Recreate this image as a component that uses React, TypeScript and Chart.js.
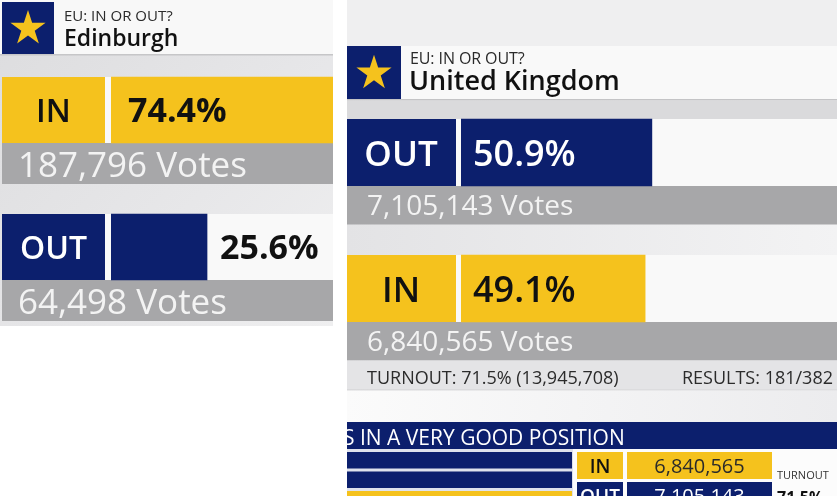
import { useEffect, useRef } from "react";
import { Chart, registerables } from "chart.js";

Chart.register(...registerables);

// ---------------- data ----------------
const headerKicker = "EU: IN OR OUT?";

const edinburghTitle = "Edinburgh";
const edinburghSides = ["IN", "OUT"];
const edinburghShare = [74.4, 25.6];
const edinburghVotes = [187796, 64498];
const edinburghAxis = [-11.6, 74.4]; // the Edinburgh graphic is not drawn from zero

const ukTitle = "United Kingdom";
const ukSides = ["OUT", "IN"];
const ukShare = [50.9, 49.1];
const ukVotes = [7105143, 6840565];
const ukAxis = [0, 100];
const ukTurnoutPct = 71.5;
const ukTurnoutVotes = 13945708;
const ukResultsDeclared = 181;
const ukResultsTotal = 382;

const tickerText = "S IN A VERY GOOD POSITION";
const tickerSides = ["IN", "OUT"];
const tickerVotes = [6840565, 7105143];

// ---------------- style ----------------
const NAVY = "#0c1f6d";
const YELLOW = "#f5c21d";
const GRAY = "#a7a7a9";
const VOTES_TEXT = "#f3f3f3";
const FONT = '"Open Sans", "Noto Sans", sans-serif';
const sideColor = (s: string) => (s === "IN" ? YELLOW : NAVY);
const sideText = (s: string) => (s === "IN" ? "#111111" : "#ffffff");
const fmt = (n: number) => String(n).replace(/\B(?=(\d{3})+(?!\d))/g, ",");

function drawStar(ctx: CanvasRenderingContext2D, cx: number, cy: number, R: number, color: string) {
  const r = R * 0.382;
  ctx.beginPath();
  for (let i = 0; i < 10; i++) {
    const rad = i % 2 === 0 ? R : r;
    const a = -Math.PI / 2 + (i * Math.PI) / 5;
    ctx.lineTo(cx + rad * Math.cos(a), cy + rad * Math.sin(a));
  }
  ctx.closePath();
  ctx.fillStyle = color;
  ctx.fill();
}

function text(
  ctx: CanvasRenderingContext2D,
  s: string,
  x: number,
  y: number,
  font: string,
  color: string,
  align: CanvasTextAlign = "left",
  spacing = 0
) {
  ctx.save();
  ctx.font = font;
  ctx.fillStyle = color;
  ctx.textAlign = align;
  ctx.textBaseline = "alphabetic";
  (ctx as any).letterSpacing = spacing + "px";
  ctx.fillText(s, x, y);
  ctx.restore();
}

function barGeom(chart: any, i: number) {
  const el = chart.getDatasetMeta(0).data[i];
  const p = el.getProps(["x", "y", "base", "height"], true);
  return { x: p.x, y: p.y, base: p.base, h: p.height, top: p.y - p.height / 2, bot: p.y + p.height / 2 };
}

// ---------------- Edinburgh panel ----------------
const edinPlugin = {
  id: "edinDecor",
  beforeDatasetsDraw(chart: any) {
    const ctx: CanvasRenderingContext2D = chart.ctx;
    const W = chart.width;
    const H = chart.height;
    ctx.save();
    const g = ctx.createLinearGradient(0, 0, W, H);
    g.addColorStop(0, "#dcdcde");
    g.addColorStop(0.6, "#e7e7e9");
    g.addColorStop(1, "#efeff0");
    ctx.fillStyle = g;
    ctx.fillRect(0, 0, W, H);
    // header
    ctx.fillStyle = "#f8f8f8";
    ctx.fillRect(0, 0, W, 54);
    ctx.fillStyle = "#c6c6c8";
    ctx.fillRect(0, 54, W, 1.5);
    ctx.fillStyle = NAVY;
    ctx.fillRect(2, 2, 52, 52);
    drawStar(ctx, 28, 28.5, 18.5, YELLOW);
    // rows
    edinburghSides.forEach((side, i) => {
      const b = barGeom(chart, i);
      ctx.fillStyle = "#f9f9f9";
      ctx.fillRect(2, b.top, W - 2, b.h);
      ctx.fillStyle = sideColor(side);
      ctx.fillRect(2, b.top, 103, b.h);
      ctx.fillStyle = GRAY;
      ctx.fillRect(2, b.bot, W - 2, 41);
    });
    ctx.restore();
  },
  afterDatasetsDraw(chart: any) {
    const ctx: CanvasRenderingContext2D = chart.ctx;
    text(ctx, headerKicker, 64, 21, `400 15px ${FONT}`, "#2a2a2a");
    text(ctx, edinburghTitle, 64, 46, `600 23px ${FONT}`, "#111111");
    edinburghSides.forEach((side, i) => {
      const b = barGeom(chart, i);
      text(ctx, side, 53.5, b.y + 12, `600 32px ${FONT}`, sideText(side), "center");
      const pct = edinburghShare[i].toFixed(1) + "%";
      ctx.save();
      ctx.font = `700 34px ${FONT}`;
      const tw = ctx.measureText(pct).width;
      ctx.restore();
      const inside = b.x - b.base >= tw + 30;
      text(
        ctx,
        pct,
        inside ? b.base + 17 : b.x + 13,
        b.y + 12,
        `700 34px ${FONT}`,
        inside ? sideText(side) : "#111111"
      );
      text(ctx, fmt(edinburghVotes[i]) + " Votes", 18, b.bot + 34, `400 35px ${FONT}`, VOTES_TEXT);
    });
  },
};

// ---------------- UK panel ----------------
const ukPlugin = {
  id: "ukDecor",
  beforeDatasetsDraw(chart: any) {
    const ctx: CanvasRenderingContext2D = chart.ctx;
    const W = chart.width;
    const H = chart.height;
    ctx.save();
    const g = ctx.createLinearGradient(0, 0, W, 0);
    g.addColorStop(0, "#e3e3e5");
    g.addColorStop(1, "#f3f3f4");
    ctx.fillStyle = g;
    ctx.fillRect(0, 0, W, H);
    // top area lighter
    ctx.fillStyle = "#efeff0";
    ctx.fillRect(0, 0, W, 46);
    ctx.fillStyle = "#ffffff";
    ctx.fillRect(0, 0, 1, H);
    // header
    ctx.fillStyle = "#f9f9f9";
    ctx.fillRect(55, 46, W - 55, 53);
    ctx.fillStyle = "#c4c4c6";
    ctx.fillRect(1, 99, W - 1, 1.5);
    ctx.fillStyle = "#dadadc";
    ctx.fillRect(1, 100.5, W - 1, 18.5);
    ctx.fillStyle = NAVY;
    ctx.fillRect(1, 46, 54, 53);
    drawStar(ctx, 28, 73.3, 18.5, YELLOW);

    let lastBot = 0;
    ukSides.forEach((side, i) => {
      const b = barGeom(chart, i);
      ctx.fillStyle = "#f9f9f9";
      ctx.fillRect(1, b.top, W - 1, b.h);
      ctx.fillStyle = sideColor(side);
      ctx.fillRect(1, b.top, 109, b.h);
      ctx.fillStyle = GRAY;
      ctx.fillRect(1, b.bot, W - 1, 38.5);
      lastBot = b.bot + 38.5;
    });
    // turnout strip
    ctx.fillStyle = "#e4e4e6";
    ctx.fillRect(1, lastBot, W - 1, 29);
    ctx.fillStyle = "#cfcfd1";
    ctx.fillRect(1, lastBot + 29, W - 1, 1);
    const g2 = ctx.createLinearGradient(0, lastBot + 30, W, 422);
    g2.addColorStop(0, "#fbfbfb");
    g2.addColorStop(1, "#ececee");
    ctx.fillStyle = g2;
    ctx.fillRect(1, lastBot + 30, W - 1, 422 - lastBot - 30);

    // ticker
    ctx.fillStyle = NAVY;
    ctx.fillRect(1, 422, W - 1, 27);
    ctx.fillStyle = "#fcfcfc";
    ctx.fillRect(1, 449, W - 1, H - 449);
    ctx.fillStyle = "#dfe2ec";
    ctx.fillRect(1, 449, 226, H - 449);
    ctx.fillStyle = NAVY;
    ctx.fillRect(1, 452, 225, 16.5);
    ctx.fillRect(1, 471.5, 225, 16.5);
    ctx.fillStyle = YELLOW;
    ctx.fillRect(1, 491, 225, H - 491);
    // ticker table cells
    tickerSides.forEach((side, i) => {
      const top = 452 + i * 30;
      ctx.fillStyle = sideColor(side);
      ctx.fillRect(231, top, 46, 27);
      ctx.fillRect(281, top, 145, 27);
    });
    ctx.restore();
  },
  afterDatasetsDraw(chart: any) {
    const ctx: CanvasRenderingContext2D = chart.ctx;
    text(ctx, headerKicker, 64, 64, `400 16px ${FONT}`, "#2a2a2a", "left", -0.1);
    text(ctx, ukTitle, 63, 90, `600 27px ${FONT}`, "#111111");
    let lastBot = 0;
    ukSides.forEach((side, i) => {
      const b = barGeom(chart, i);
      text(ctx, side, 55, b.y + 13, `600 35px ${FONT}`, sideText(side), "center");
      const pct = ukShare[i].toFixed(1) + "%";
      ctx.save();
      ctx.font = `600 36px ${FONT}`;
      const tw = ctx.measureText(pct).width;
      ctx.restore();
      const inside = b.x - b.base >= tw + 24;
      text(
        ctx,
        pct,
        inside ? b.base + 12 : b.x + 12,
        b.y + 13,
        `600 36px ${FONT}`,
        inside ? sideText(side) : "#111111"
      );
      text(ctx, fmt(ukVotes[i]) + " Votes", 21, b.bot + 29, `400 28px ${FONT}`, VOTES_TEXT);
      lastBot = b.bot + 38.5;
    });
    text(
      ctx,
      `TURNOUT: ${ukTurnoutPct.toFixed(1)}% (${fmt(ukTurnoutVotes)})`,
      21,
      lastBot + 23,
      `400 18px ${FONT}`,
      "#2b2b2b"
    );
    text(ctx, `RESULTS: ${ukResultsDeclared}/${ukResultsTotal}`, 487, lastBot + 23, `400 18px ${FONT}`, "#2b2b2b", "right");
    text(ctx, tickerText, -3, 445, `400 21px ${FONT}`, "#ffffff");
    tickerSides.forEach((side, i) => {
      const top = 452 + i * 30;
      text(ctx, side, 254, top + 21, `600 19px ${FONT}`, sideText(side), "center");
      text(ctx, fmt(tickerVotes[i]), 353.5, top + 20.5, `400 20px ${FONT}`, side === "IN" ? "#2a2a2a" : "#ffffff", "center");
    });
    text(ctx, "TURNOUT", 431, 479, `400 11px ${FONT}`, "#333333");
    text(ctx, ukTurnoutPct.toFixed(1) + "%", 431, 503, `700 16px ${FONT}`, "#111111");
  },
};

function makeConfig(
  sides: string[],
  share: number[],
  axis: number[],
  thickness: number,
  padding: any,
  plugin: any
): any {
  return {
    type: "bar",
    data: {
      labels: sides,
      datasets: [
        {
          data: share,
          backgroundColor: sides.map(sideColor),
          borderWidth: 0,
          base: axis[0],
          barThickness: thickness,
        },
      ],
    },
    options: {
      indexAxis: "y",
      responsive: false,
      animation: false,
      events: [],
      layout: { padding },
      scales: {
        x: { display: false, min: axis[0], max: axis[1] },
        y: { display: false },
      },
      plugins: { legend: { display: false }, tooltip: { enabled: false } },
    },
    plugins: [plugin],
  };
}

export default function App() {
  const leftRef = useRef<HTMLCanvasElement>(null);
  const rightRef = useRef<HTMLCanvasElement>(null);
  useEffect(() => {
    document.body.style.margin = "0";
    const c1 = new Chart(
      leftRef.current!,
      makeConfig(edinburghSides, edinburghShare, edinburghAxis, 66, { left: 111, right: 0, top: 41.5, bottom: 10.5 }, edinPlugin)
    );
    const c2 = new Chart(
      rightRef.current!,
      makeConfig(ukSides, ukShare, ukAxis, 67, { left: 115, right: 1, top: 84.5, bottom: 139.5 }, ukPlugin)
    );
    return () => {
      c1.destroy();
      c2.destroy();
    };
  }, []);
  return (
    <div style={{ position: "fixed", left: 0, top: 0, width: 837, height: 496, background: "#ffffff", overflow: "hidden" }}>
      <canvas ref={leftRef} width={333} height={326} style={{ position: "absolute", left: 0, top: 0 }} />
      <canvas ref={rightRef} width={491} height={496} style={{ position: "absolute", left: 346, top: 0 }} />
    </div>
  );
}
